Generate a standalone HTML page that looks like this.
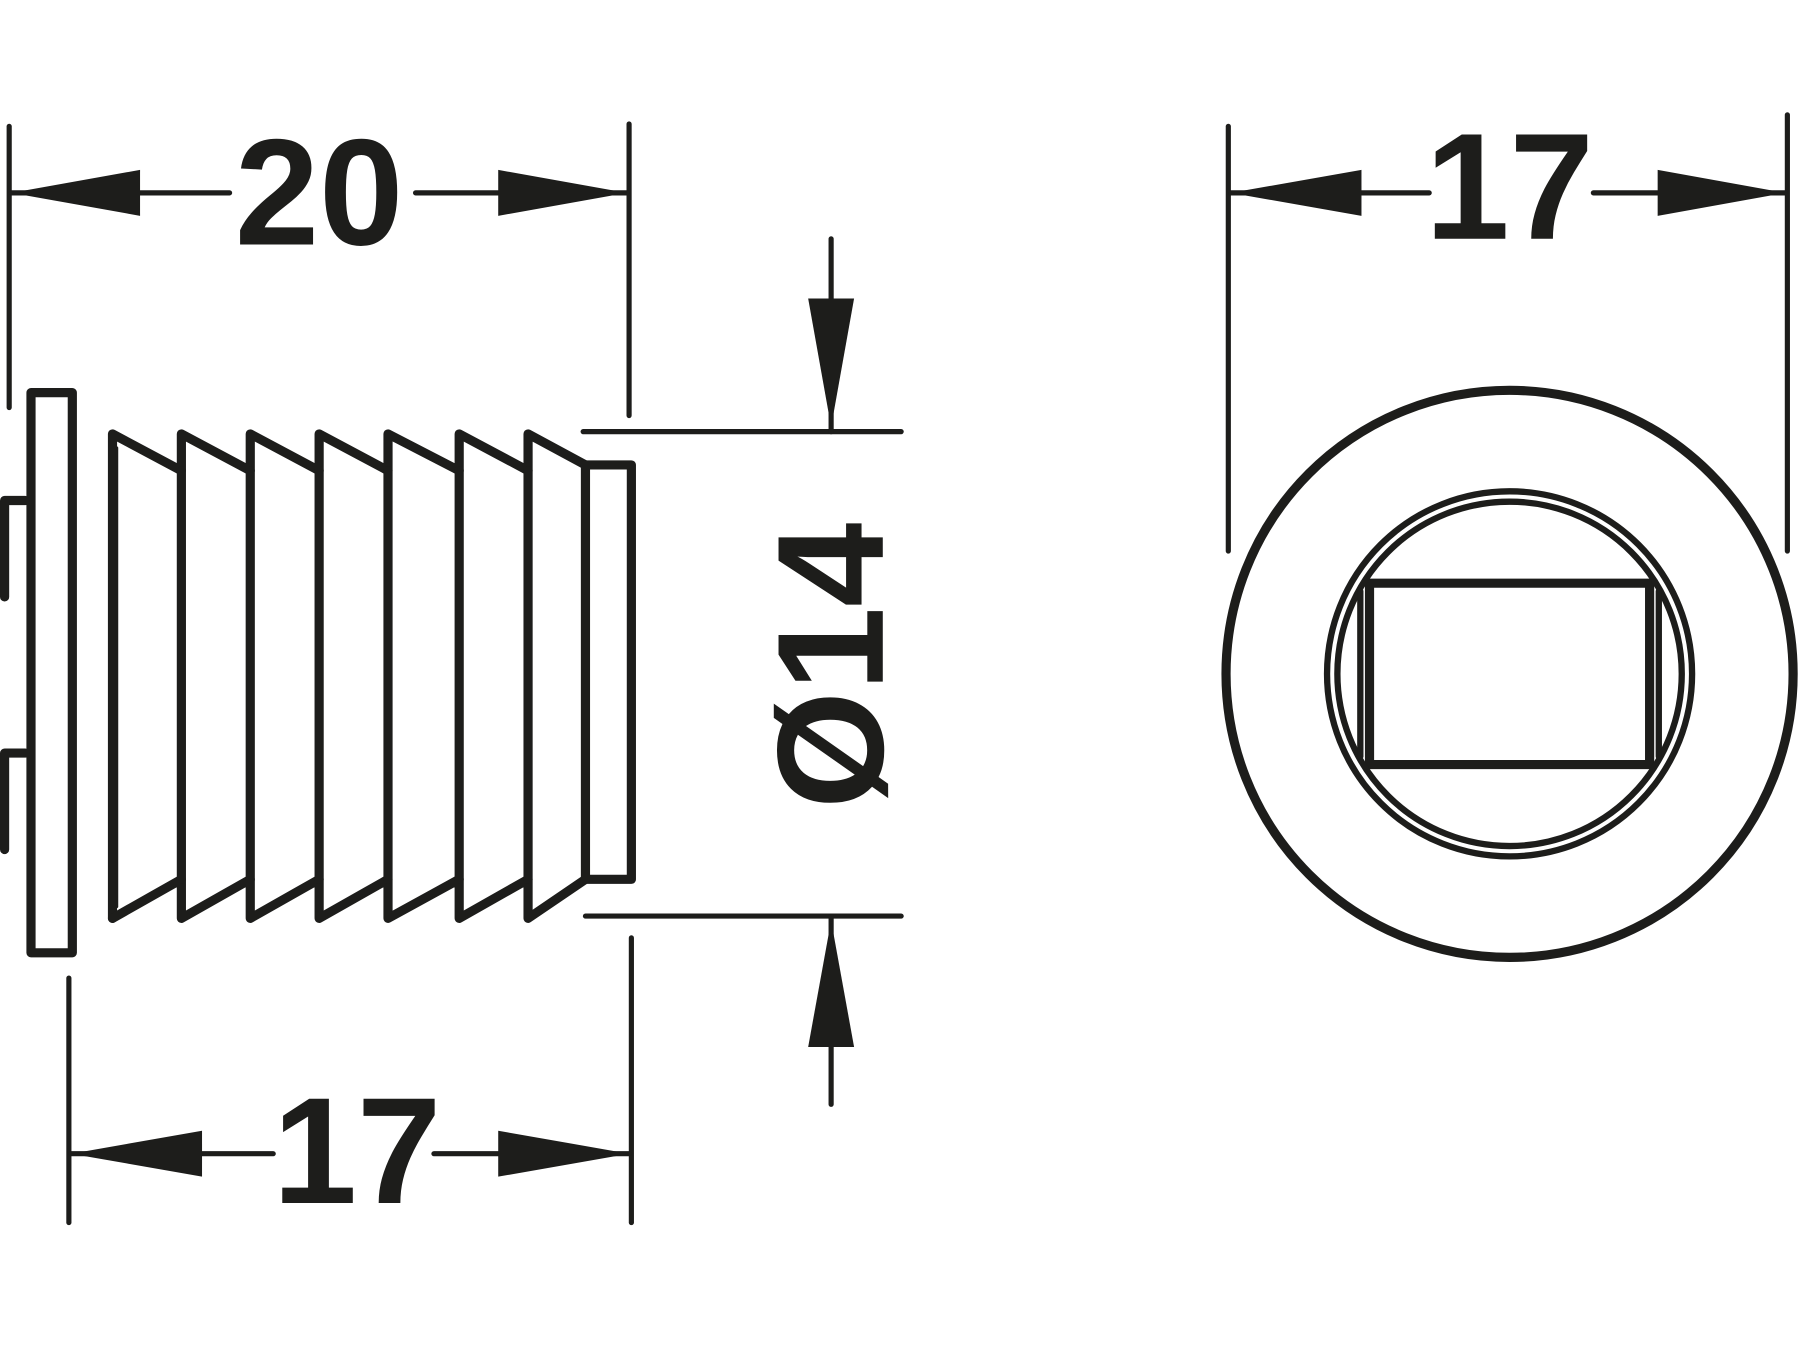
<!DOCTYPE html>
<html><head><style>html,body{margin:0;padding:0;background:#fff}svg{display:block}</style></head>
<body>
<svg width="1800" height="1350" viewBox="0 0 1568 1176" xmlns="http://www.w3.org/2000/svg">
<g stroke="#1d1d1b" fill="none" stroke-linecap="round" stroke-linejoin="round">
<g stroke-width="4.5">
<line x1="8" y1="110" x2="8" y2="355"/>
<line x1="548" y1="108" x2="548" y2="362"/>
<line x1="60" y1="852" x2="60" y2="1065"/>
<line x1="550" y1="817" x2="550" y2="1065"/>
<line x1="1070" y1="110" x2="1070" y2="480"/>
<line x1="1557" y1="100" x2="1557" y2="480"/>
<line x1="508" y1="376" x2="785" y2="376"/>
<line x1="510" y1="798" x2="785" y2="798"/>
<line x1="724" y1="208" x2="724" y2="376"/>
<line x1="724" y1="798" x2="724" y2="962"/>
<line x1="10" y1="168" x2="200" y2="168"/>
<line x1="362" y1="168" x2="546" y2="168"/>
<line x1="62" y1="1005" x2="238" y2="1005"/>
<line x1="378" y1="1005" x2="548" y2="1005"/>
<line x1="1072" y1="168" x2="1245" y2="168"/>
<line x1="1388" y1="168" x2="1555" y2="168"/>
</g>
<g stroke-width="8">
<rect x="27" y="342" width="36" height="488"/>
<polyline points="4,520 4,436 22,436"/>
<polyline points="4,740 4,656 22,656"/>
<path d="M98,800 V378 L158,410 V378 L218,410 V378 L278,410 V378 L338,410 V378 L400,410 V378 L460,410 V378 L510,405"/>
<path d="M98,800 L158,766 V800 L218,766 V800 L278,766 V800 L338,766 V800 L400,766 V800 L460,766 V800 L510,766"/>
<line x1="158" y1="410" x2="158" y2="766"/>
<line x1="218" y1="410" x2="218" y2="766"/>
<line x1="278" y1="410" x2="278" y2="766"/>
<line x1="338" y1="410" x2="338" y2="766"/>
<line x1="400" y1="410" x2="400" y2="766"/>
<line x1="460" y1="410" x2="460" y2="766"/>
<rect x="510" y="405" width="40" height="361"/>
<circle cx="1315" cy="587" r="247"/>
<rect x="1193" y="508" width="244" height="158"/>
</g>
<g stroke-width="5.5">
<circle cx="1315" cy="587" r="159"/>
<circle cx="1315" cy="587" r="150"/>
<line x1="1185" y1="515" x2="1185" y2="659"/>
<line x1="1445" y1="515" x2="1445" y2="659"/>
</g>
<line x1="102" y1="390" x2="102" y2="790" stroke-width="2"/>
</g>
<g fill="#1d1d1b">
<polygon points="10,168 122,148 122,188"/>
<polygon points="546,168 434,148 434,188"/>
<polygon points="62,1005 176,985 176,1025"/>
<polygon points="548,1005 434,985 434,1025"/>
<polygon points="1072,168 1186,148 1186,188"/>
<polygon points="1555,168 1444,148 1444,188"/>
<polygon points="724,372 704,260 744,260"/>
<polygon points="724,802 704,912 744,912"/>
</g>
<g font-family="Liberation Sans, sans-serif" font-weight="bold" font-size="132" fill="#1d1d1b" text-anchor="middle">
<text x="278" y="213">20</text>
<text x="311" y="1048">17</text>
<text x="1315" y="208">17</text>
<text transform="translate(769,580) rotate(-90)" x="0" y="0">Ø14</text>
</g>
</svg>
</body></html>
